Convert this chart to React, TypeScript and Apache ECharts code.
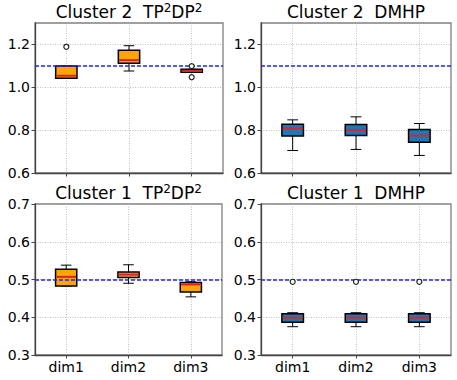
import React, { useEffect, useRef } from "react";
import * as echarts from "echarts";

const categories = ["dim1", "dim2", "dim3"];

// each box: [min, q1, median, q3, max]
const c2TpBoxes = [
  [1.042, 1.042, 1.054, 1.099, 1.099],
  [1.076, 1.112, 1.127, 1.173, 1.194],
  [1.070, 1.070, 1.077, 1.084, 1.084],
];
const c2TpOutliers = [
  [0, 1.189],
  [2, 1.099],
  [2, 1.047],
];

const c2DmBoxes = [
  [0.705, 0.773, 0.808, 0.828, 0.848],
  [0.710, 0.775, 0.801, 0.826, 0.862],
  [0.682, 0.744, 0.775, 0.803, 0.831],
];
const c2DmOutliers: number[][] = [];

const c1TpBoxes = [
  [0.483, 0.483, 0.507, 0.527, 0.538],
  [0.490, 0.5055, 0.513, 0.520, 0.539],
  [0.454, 0.467, 0.487, 0.492, 0.494],
];
const c1TpOutliers: number[][] = [];

const c1DmBoxes = [
  [0.375, 0.387, 0.399, 0.409, 0.412],
  [0.375, 0.387, 0.399, 0.409, 0.412],
  [0.375, 0.387, 0.399, 0.409, 0.412],
];
const c1DmOutliers = [
  [0, 0.494],
  [1, 0.494],
  [2, 0.494],
];

const topTicks = [0.6, 0.8, 1.0, 1.2];
const bottomTicks = [0.3, 0.4, 0.5, 0.6, 0.7];
const topRefLine = 1.1;
const bottomRefLine = 0.5;

const FONT = "DejaVu Sans";
const ORANGE = "#FFA500";
const BLUE = "#1f77b4";

export default function App() {
  const ref = useRef<HTMLDivElement>(null);

  useEffect(() => {
    if (!ref.current) return;
    const chart = echarts.init(ref.current, undefined, { renderer: "svg" });

    const panels = [
      { left: 35, top: 23, width: 188, height: 150, boxes: c2TpBoxes, outliers: c2TpOutliers, fill: ORANGE, min: 0.6, max: 1.3, interval: 0.2, ticks: topTicks, ref: topRefLine, xLabels: false },
      { left: 261, top: 23, width: 190, height: 150, boxes: c2DmBoxes, outliers: c2DmOutliers, fill: BLUE, min: 0.6, max: 1.3, interval: 0.2, ticks: topTicks, ref: topRefLine, xLabels: false },
      { left: 35, top: 204, width: 187, height: 151, boxes: c1TpBoxes, outliers: c1TpOutliers, fill: ORANGE, min: 0.3, max: 0.7, interval: 0.1, ticks: bottomTicks, ref: bottomRefLine, xLabels: true },
      { left: 261, top: 204, width: 190, height: 151, boxes: c1DmBoxes, outliers: c1DmOutliers, fill: BLUE, min: 0.3, max: 0.7, interval: 0.1, ticks: bottomTicks, ref: bottomRefLine, xLabels: true },
    ];

    const titles = [
      { x: 129, y: 12, text: "Cluster 2  TP{s|2}DP{s|2}" },
      { x: 356, y: 12, text: "Cluster 2  DMHP" },
      { x: 128.5, y: 193, text: "Cluster 1  TP{s|2}DP{s|2}" },
      { x: 356, y: 193, text: "Cluster 1  DMHP" },
    ];

    const grid = panels.map((p) => ({
      left: p.left,
      top: p.top,
      width: p.width,
      height: p.height,
      show: true,
      borderColor: "#808080",
      borderWidth: 1.3,
      backgroundColor: "transparent",
    }));

    const xAxis = panels.map((p, i) => ({
      type: "category",
      gridIndex: i,
      data: categories,
      boundaryGap: true,
      axisLine: { show: true, lineStyle: { color: "#444", width: 1.3 } },
      axisTick: { show: true, alignWithLabel: true, length: 3.5, lineStyle: { color: "#444", width: 1 } },
      axisLabel: { show: p.xLabels, fontFamily: FONT, fontSize: 14, color: "#000", margin: 5 },
      splitLine: { show: true, alignWithLabel: true, lineStyle: { color: "#b0b0b0", type: [1, 1.5], width: 0.8 } },
    }));

    const yAxis = panels.map((p, i) => ({
      type: "value",
      gridIndex: i,
      min: p.min,
      max: p.max,
      interval: p.interval,
      axisLine: { show: true, lineStyle: { color: "#444", width: 1.3 } },
      axisTick: { show: true, length: 3.5, customValues: p.ticks, lineStyle: { color: "#444", width: 1 } },
      axisLabel: {
        show: true,
        customValues: p.ticks,
        fontFamily: FONT,
        fontSize: 14,
        color: "#000",
        margin: 5,
        formatter: (v: number) => v.toFixed(1),
      },
      splitLine: { show: true, lineStyle: { color: "#b0b0b0", type: [1, 1.5], width: 0.8 } },
    }));

    const series: any[] = [];
    panels.forEach((p, i) => {
      series.push({
        type: "custom",
        xAxisIndex: i,
        yAxisIndex: i,
        z: 3,
        encode: { x: 0, y: [1, 2, 3, 4, 5] },
        data: p.boxes.map((b, k) => [k, ...b]),
        renderItem: (params: any, api: any) => {
          const idx = api.value(0);
          const band = api.size([1, 0])[0];
          const bw = band * 0.34;
          const cw = bw / 2;
          const pMin = api.coord([idx, api.value(1)]);
          const pQ1 = api.coord([idx, api.value(2)]);
          const pMed = api.coord([idx, api.value(3)]);
          const pQ3 = api.coord([idx, api.value(4)]);
          const pMax = api.coord([idx, api.value(5)]);
          const cx = pMin[0];
          const ls = { stroke: "#000", lineWidth: 1 };
          return {
            type: "group",
            children: [
              { type: "line", shape: { x1: cx, y1: pQ1[1], x2: cx, y2: pMin[1] }, style: ls },
              { type: "line", shape: { x1: cx, y1: pQ3[1], x2: cx, y2: pMax[1] }, style: ls },
              { type: "line", shape: { x1: cx - cw / 2, y1: pMin[1], x2: cx + cw / 2, y2: pMin[1] }, style: ls },
              { type: "line", shape: { x1: cx - cw / 2, y1: pMax[1], x2: cx + cw / 2, y2: pMax[1] }, style: ls },
              {
                type: "rect",
                shape: { x: cx - bw / 2, y: pQ3[1], width: bw, height: pQ1[1] - pQ3[1] },
                style: { fill: p.fill, stroke: "#000", lineWidth: 1.5 },
              },
              {
                type: "line",
                shape: { x1: cx - bw / 2 + 0.75, y1: pMed[1], x2: cx + bw / 2 - 0.75, y2: pMed[1] },
                style: { stroke: "#d62728", lineWidth: 2 },
              },
            ],
          };
        },
        markLine: {
          silent: true,
          symbol: ["none", "none"],
          label: { show: false },
          lineStyle: { color: "#2222ff", type: [4, 2], width: 1.5 },
          data: [{ yAxis: p.ref }],
        },
      });
      series.push({
        type: "scatter",
        xAxisIndex: i,
        yAxisIndex: i,
        z: 6,
        symbol: "circle",
        symbolSize: 5,
        itemStyle: { color: "#fff", borderColor: "#222", borderWidth: 1.2, opacity: 1 },
        data: p.outliers,
      });
    });

    const option: any = {
      animation: false,
      backgroundColor: "#fff",
      grid,
      xAxis,
      yAxis,
      series,
      graphic: titles.map((t) => ({
        type: "text",
        x: t.x,
        y: t.y,
        style: {
          text: t.text,
          fontFamily: FONT,
          fontSize: 17,
          lineHeight: 20,
          fill: "#000",
          textAlign: "center",
          textVerticalAlign: "middle",
          rich: {
            s: { fontFamily: FONT, fontSize: 12, lineHeight: 16, verticalAlign: "top", fill: "#000" },
          },
        },
      })),
    };

    chart.setOption(option);
    return () => chart.dispose();
  }, []);

  return (
    <div
      ref={ref}
      style={{ position: "absolute", left: 0, top: 0, width: 457, height: 380 }}
    />
  );
}
